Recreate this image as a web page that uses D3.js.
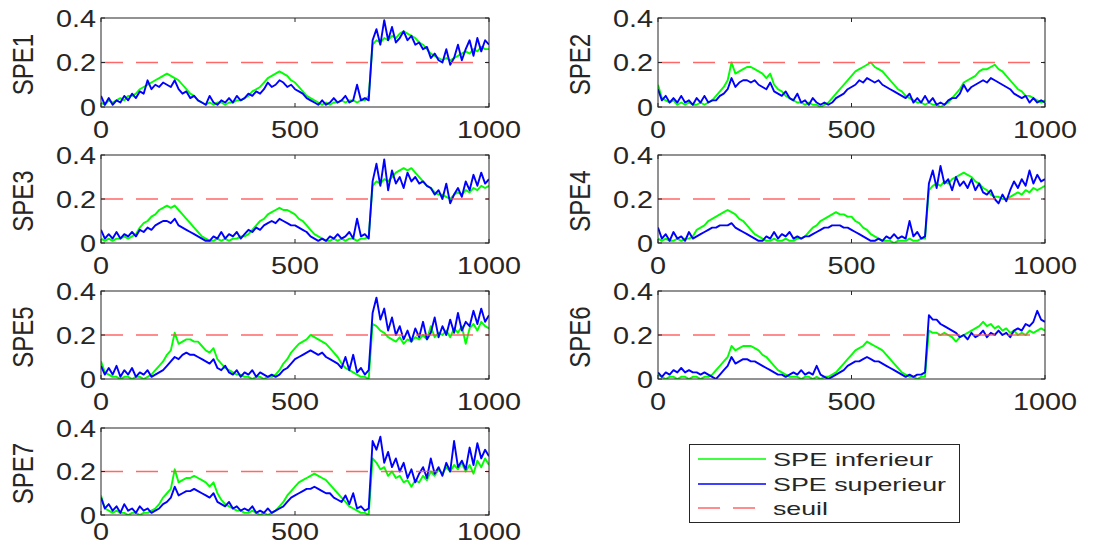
<!DOCTYPE html>
<html>
<head>
<meta charset="utf-8">
<script src="https://cdn.jsdelivr.net/npm/d3@7"></script>
<style>
  html, body { margin: 0; padding: 0; background: #ffffff; }
  svg { display: block; }
  text { font-family: "Liberation Sans", Arial, Helvetica, sans-serif; fill: #262626; }
</style>
</head>
<body>
<svg id="chart" width="1118" height="546"></svg>
<script>
// ---------------- DATA (sampled every 10 observations, 0..1000) ----------------
const panelNames = ["SPE1", "SPE2", "SPE3", "SPE4", "SPE5", "SPE6", "SPE7"];
const seriesNames = ["SPE inferieur", "SPE superieur", "seuil"];
const xTickValues = [0, 500, 1000];
const xTickLabels = ["0", "500", "1000"];
const yTickValues = [0, 0.2, 0.4];
const yTickLabels = ["0", "0.2", "0.4"];
const seuil = 0.2;

const spe1Inf = [0.02,0.01,0.03,0.02,0.03,0.04,0.03,0.05,0.05,0.06,0.08,0.09,0.10,0.11,0.12,0.13,0.14,0.15,0.14,0.13,0.12,0.10,0.08,0.06,0.05,0.03,0.02,0.01,0.02,0.01,0.02,0.02,0.01,0.02,0.02,0.03,0.03,0.04,0.05,0.07,0.08,0.09,0.11,0.13,0.14,0.15,0.16,0.15,0.14,0.12,0.11,0.09,0.07,0.05,0.04,0.03,0.02,0.01,0.02,0.01,0.02,0.02,0.03,0.02,0.03,0.03,0.02,0.03,0.03,0.05,0.28,0.30,0.29,0.31,0.30,0.32,0.31,0.33,0.34,0.33,0.32,0.31,0.29,0.28,0.26,0.24,0.23,0.22,0.21,0.22,0.21,0.22,0.23,0.24,0.25,0.24,0.26,0.25,0.27,0.26,0.26];
const spe1Sup = [0.05,0.01,0.04,0.01,0.03,0.02,0.05,0.03,0.06,0.04,0.07,0.06,0.12,0.08,0.10,0.09,0.11,0.10,0.09,0.12,0.08,0.06,0.07,0.04,0.05,0.03,0.02,0.01,0.05,0.02,0.01,0.03,0.02,0.04,0.02,0.05,0.03,0.04,0.06,0.05,0.07,0.06,0.08,0.11,0.09,0.10,0.12,0.11,0.09,0.10,0.08,0.07,0.06,0.04,0.03,0.02,0.01,0.03,0.01,0.02,0.04,0.02,0.03,0.05,0.02,0.03,0.10,0.03,0.04,0.03,0.30,0.35,0.28,0.39,0.30,0.36,0.29,0.31,0.34,0.30,0.32,0.28,0.29,0.26,0.27,0.22,0.24,0.21,0.20,0.26,0.19,0.22,0.28,0.21,0.26,0.30,0.23,0.31,0.25,0.30,0.28];

const spe2Inf = [0.10,0.04,0.03,0.02,0.03,0.01,0.02,0.01,0.02,0.01,0.01,0.02,0.01,0.02,0.03,0.05,0.07,0.09,0.12,0.20,0.15,0.16,0.17,0.18,0.18,0.17,0.16,0.15,0.13,0.15,0.10,0.08,0.07,0.05,0.04,0.03,0.02,0.02,0.01,0.02,0.01,0.01,0.00,0.01,0.02,0.04,0.06,0.08,0.10,0.12,0.14,0.16,0.17,0.18,0.19,0.20,0.18,0.17,0.16,0.14,0.12,0.10,0.08,0.07,0.05,0.04,0.03,0.02,0.02,0.01,0.02,0.01,0.01,0.00,0.01,0.02,0.04,0.06,0.08,0.11,0.12,0.13,0.14,0.16,0.17,0.17,0.18,0.19,0.17,0.16,0.14,0.12,0.10,0.08,0.07,0.05,0.05,0.04,0.03,0.02,0.03];
const spe2Sup = [0.08,0.03,0.05,0.02,0.04,0.02,0.05,0.02,0.03,0.01,0.04,0.02,0.05,0.02,0.03,0.03,0.05,0.06,0.08,0.13,0.09,0.11,0.12,0.12,0.11,0.12,0.10,0.09,0.08,0.11,0.07,0.06,0.05,0.07,0.04,0.03,0.06,0.02,0.03,0.01,0.04,0.02,0.01,0.02,0.01,0.02,0.04,0.05,0.06,0.08,0.09,0.10,0.12,0.11,0.13,0.12,0.11,0.12,0.10,0.09,0.08,0.07,0.06,0.05,0.04,0.06,0.02,0.04,0.02,0.05,0.02,0.04,0.01,0.02,0.01,0.03,0.04,0.04,0.06,0.10,0.07,0.09,0.10,0.11,0.12,0.11,0.13,0.12,0.11,0.10,0.09,0.08,0.06,0.05,0.04,0.05,0.02,0.04,0.02,0.03,0.02];

const spe3Inf = [0.02,0.01,0.02,0.01,0.02,0.02,0.03,0.02,0.03,0.04,0.07,0.09,0.10,0.12,0.13,0.15,0.16,0.17,0.16,0.17,0.15,0.13,0.11,0.09,0.07,0.05,0.03,0.02,0.01,0.01,0.02,0.01,0.02,0.01,0.02,0.02,0.03,0.03,0.04,0.06,0.08,0.10,0.11,0.13,0.14,0.15,0.16,0.15,0.15,0.14,0.13,0.11,0.10,0.08,0.06,0.04,0.03,0.02,0.01,0.01,0.02,0.01,0.02,0.01,0.02,0.02,0.01,0.02,0.02,0.03,0.26,0.28,0.27,0.29,0.28,0.30,0.32,0.33,0.34,0.33,0.34,0.32,0.30,0.28,0.26,0.25,0.23,0.22,0.22,0.21,0.20,0.22,0.23,0.22,0.24,0.23,0.25,0.24,0.26,0.25,0.26];
const spe3Sup = [0.06,0.02,0.04,0.02,0.05,0.02,0.04,0.03,0.05,0.03,0.06,0.05,0.07,0.06,0.08,0.09,0.10,0.10,0.09,0.11,0.08,0.07,0.06,0.05,0.04,0.03,0.02,0.01,0.01,0.03,0.02,0.05,0.02,0.04,0.03,0.05,0.02,0.04,0.06,0.05,0.07,0.06,0.08,0.09,0.10,0.09,0.11,0.10,0.09,0.08,0.08,0.07,0.06,0.05,0.03,0.02,0.01,0.02,0.01,0.03,0.02,0.04,0.02,0.03,0.05,0.02,0.11,0.03,0.04,0.02,0.28,0.36,0.26,0.38,0.24,0.33,0.27,0.30,0.25,0.32,0.28,0.30,0.27,0.28,0.26,0.25,0.22,0.24,0.20,0.27,0.18,0.22,0.25,0.21,0.28,0.24,0.31,0.26,0.32,0.27,0.29];

const spe4Inf = [0.02,0.01,0.02,0.01,0.01,0.02,0.01,0.02,0.02,0.03,0.06,0.07,0.08,0.10,0.11,0.12,0.13,0.14,0.15,0.14,0.13,0.11,0.10,0.08,0.06,0.04,0.03,0.02,0.01,0.01,0.02,0.01,0.01,0.02,0.01,0.01,0.02,0.02,0.03,0.05,0.07,0.08,0.10,0.11,0.12,0.13,0.14,0.13,0.13,0.12,0.12,0.10,0.09,0.07,0.06,0.04,0.03,0.02,0.01,0.01,0.01,0.00,0.01,0.01,0.01,0.02,0.01,0.01,0.02,0.02,0.24,0.26,0.27,0.26,0.28,0.27,0.29,0.30,0.31,0.32,0.31,0.30,0.28,0.27,0.25,0.24,0.22,0.21,0.21,0.20,0.20,0.21,0.22,0.23,0.22,0.24,0.23,0.25,0.24,0.25,0.26];
const spe4Sup = [0.07,0.02,0.04,0.01,0.05,0.02,0.03,0.01,0.05,0.02,0.03,0.04,0.05,0.06,0.07,0.07,0.08,0.08,0.08,0.09,0.07,0.06,0.05,0.04,0.03,0.02,0.01,0.01,0.03,0.02,0.05,0.02,0.04,0.03,0.05,0.02,0.03,0.02,0.03,0.03,0.04,0.05,0.06,0.07,0.07,0.08,0.08,0.08,0.07,0.07,0.06,0.05,0.04,0.03,0.02,0.01,0.01,0.02,0.01,0.03,0.02,0.04,0.02,0.03,0.02,0.10,0.03,0.05,0.02,0.03,0.27,0.33,0.25,0.35,0.27,0.29,0.24,0.30,0.26,0.28,0.25,0.29,0.24,0.27,0.23,0.22,0.24,0.20,0.18,0.22,0.19,0.24,0.28,0.25,0.29,0.26,0.33,0.27,0.31,0.28,0.29];

const spe5Inf = [0.08,0.03,0.02,0.01,0.01,0.00,0.01,0.01,0.00,0.01,0.01,0.00,0.01,0.02,0.04,0.06,0.08,0.11,0.13,0.21,0.16,0.17,0.18,0.18,0.17,0.17,0.15,0.13,0.12,0.14,0.09,0.07,0.05,0.04,0.03,0.02,0.02,0.01,0.01,0.00,0.01,0.01,0.00,0.01,0.01,0.02,0.04,0.07,0.09,0.12,0.14,0.16,0.17,0.18,0.20,0.19,0.18,0.17,0.16,0.14,0.12,0.10,0.07,0.05,0.04,0.03,0.02,0.01,0.01,0.00,0.25,0.24,0.22,0.21,0.19,0.18,0.17,0.19,0.16,0.18,0.17,0.19,0.18,0.20,0.18,0.24,0.19,0.21,0.20,0.22,0.19,0.23,0.21,0.24,0.16,0.23,0.25,0.22,0.26,0.24,0.23];
const spe5Sup = [0.06,0.02,0.05,0.02,0.06,0.01,0.04,0.02,0.05,0.01,0.03,0.02,0.04,0.01,0.02,0.03,0.04,0.06,0.08,0.10,0.09,0.11,0.12,0.11,0.11,0.10,0.09,0.08,0.07,0.09,0.05,0.04,0.06,0.03,0.02,0.04,0.01,0.03,0.02,0.04,0.01,0.03,0.02,0.01,0.02,0.01,0.02,0.04,0.05,0.07,0.09,0.10,0.11,0.12,0.13,0.12,0.11,0.12,0.10,0.09,0.08,0.07,0.05,0.10,0.04,0.11,0.03,0.05,0.02,0.04,0.30,0.37,0.27,0.32,0.22,0.28,0.20,0.24,0.18,0.22,0.17,0.23,0.19,0.26,0.18,0.21,0.28,0.19,0.24,0.20,0.27,0.21,0.30,0.22,0.26,0.24,0.31,0.25,0.32,0.26,0.29];

const spe6Inf = [0.02,0.01,0.00,0.01,0.01,0.00,0.01,0.01,0.00,0.01,0.01,0.00,0.01,0.01,0.02,0.04,0.06,0.08,0.10,0.15,0.13,0.14,0.15,0.15,0.15,0.14,0.13,0.11,0.10,0.08,0.06,0.04,0.03,0.02,0.01,0.01,0.01,0.00,0.01,0.01,0.00,0.01,0.00,0.01,0.01,0.02,0.03,0.05,0.07,0.09,0.11,0.13,0.14,0.15,0.17,0.16,0.15,0.14,0.13,0.11,0.09,0.07,0.05,0.03,0.02,0.01,0.01,0.00,0.01,0.01,0.22,0.21,0.21,0.20,0.21,0.20,0.19,0.17,0.19,0.20,0.21,0.22,0.23,0.24,0.26,0.24,0.25,0.23,0.24,0.22,0.23,0.21,0.22,0.20,0.21,0.20,0.22,0.21,0.22,0.23,0.22];
const spe6Sup = [0.03,0.01,0.03,0.02,0.04,0.03,0.05,0.03,0.04,0.03,0.03,0.02,0.03,0.02,0.01,0.00,0.02,0.04,0.06,0.10,0.07,0.08,0.09,0.09,0.08,0.08,0.07,0.06,0.05,0.04,0.03,0.02,0.02,0.01,0.02,0.03,0.02,0.04,0.02,0.03,0.02,0.06,0.02,0.01,0.00,0.01,0.02,0.03,0.04,0.06,0.07,0.08,0.08,0.09,0.10,0.09,0.08,0.08,0.07,0.06,0.05,0.04,0.03,0.02,0.01,0.02,0.01,0.02,0.02,0.03,0.29,0.27,0.27,0.25,0.24,0.23,0.22,0.21,0.19,0.20,0.18,0.21,0.19,0.20,0.22,0.19,0.21,0.20,0.22,0.20,0.21,0.19,0.22,0.23,0.22,0.25,0.24,0.26,0.31,0.27,0.26];

const spe7Inf = [0.09,0.03,0.02,0.01,0.02,0.01,0.01,0.00,0.01,0.01,0.00,0.01,0.01,0.02,0.03,0.05,0.08,0.10,0.12,0.21,0.15,0.16,0.17,0.17,0.18,0.17,0.16,0.15,0.13,0.15,0.10,0.07,0.05,0.04,0.03,0.02,0.02,0.01,0.01,0.02,0.01,0.00,0.01,0.00,0.01,0.02,0.04,0.06,0.09,0.11,0.13,0.15,0.16,0.17,0.18,0.19,0.18,0.17,0.16,0.14,0.12,0.10,0.08,0.06,0.04,0.03,0.02,0.01,0.01,0.00,0.26,0.24,0.21,0.22,0.18,0.20,0.17,0.18,0.15,0.16,0.13,0.16,0.15,0.18,0.16,0.20,0.18,0.21,0.19,0.22,0.20,0.23,0.21,0.24,0.20,0.23,0.19,0.25,0.22,0.26,0.23];
const spe7Sup = [0.08,0.03,0.05,0.02,0.04,0.01,0.05,0.02,0.03,0.01,0.04,0.02,0.03,0.01,0.02,0.03,0.05,0.06,0.08,0.13,0.09,0.10,0.11,0.11,0.12,0.11,0.10,0.09,0.08,0.10,0.06,0.05,0.04,0.06,0.03,0.04,0.02,0.03,0.02,0.04,0.01,0.02,0.01,0.03,0.01,0.02,0.03,0.04,0.06,0.08,0.09,0.10,0.11,0.12,0.12,0.13,0.12,0.11,0.10,0.10,0.08,0.07,0.06,0.09,0.05,0.10,0.03,0.04,0.02,0.03,0.34,0.30,0.36,0.24,0.29,0.22,0.26,0.20,0.24,0.17,0.21,0.15,0.19,0.22,0.17,0.26,0.19,0.22,0.18,0.24,0.20,0.34,0.22,0.25,0.21,0.31,0.23,0.33,0.26,0.30,0.27];

const infSeries = [spe1Inf, spe2Inf, spe3Inf, spe4Inf, spe5Inf, spe6Inf, spe7Inf];
const supSeries = [spe1Sup, spe2Sup, spe3Sup, spe4Sup, spe5Sup, spe6Sup, spe7Sup];

// ---------------- LAYOUT / STYLE ----------------
const colLayout = [{ x0: 101, x1: 489 }, { x0: 658, x1: 1045 }];
const rowLayout = [{ y0: 18, y1: 107 }, { y0: 155, y1: 243 }, { y0: 291, y1: 379 }, { y0: 428, y1: 515 }];
const colorInf = "#00ff00";
const colorSup = "#0000ff";
const colorSeuil = "#ff4d4d";
const axisColor = "#262626";
const stretch = 1.2;      // text is horizontally stretched in the reference
const fontSize = 24;
const tickLen = 4;

const svg = d3.select("#chart");
svg.append("rect").attr("width", 1118).attr("height", 546).attr("fill", "#fff");

panelNames.forEach((name, i) => {
  const col = colLayout[i % 2];
  const row = rowLayout[Math.floor(i / 2)];
  const x = d3.scaleLinear().domain([0, 1000]).range([col.x0, col.x1]);
  const y = d3.scaleLinear().domain([0, 0.4]).range([row.y1, row.y0]);
  const g = svg.append("g");

  const clipId = "clip" + i;
  g.append("clipPath").attr("id", clipId)
    .append("rect").attr("x", col.x0).attr("y", row.y0)
    .attr("width", col.x1 - col.x0).attr("height", row.y1 - row.y0);

  const plot = g.append("g").attr("clip-path", `url(#${clipId})`);
  const line = d3.line().x((d, k) => x(k * 10)).y(d => y(d));

  plot.append("path").datum(infSeries[i])
    .attr("d", line).attr("fill", "none")
    .attr("stroke", colorInf).attr("stroke-width", 1.9).attr("stroke-linejoin", "round");
  plot.append("path").datum(supSeries[i])
    .attr("d", line).attr("fill", "none")
    .attr("stroke", colorSup).attr("stroke-width", 1.9).attr("stroke-linejoin", "round");
  plot.append("line")
    .attr("x1", x(0)).attr("x2", x(1000)).attr("y1", y(seuil)).attr("y2", y(seuil))
    .attr("stroke", colorSeuil).attr("stroke-width", 1.5).attr("stroke-opacity", 0.85)
    .attr("stroke-dasharray", "22,13");

  // axes box
  g.append("rect").attr("x", col.x0).attr("y", row.y0)
    .attr("width", col.x1 - col.x0).attr("height", row.y1 - row.y0)
    .attr("fill", "none").attr("stroke", axisColor).attr("stroke-width", 1);

  // inward ticks
  xTickValues.forEach(v => {
    g.append("line").attr("x1", x(v)).attr("x2", x(v)).attr("y1", row.y1).attr("y2", row.y1 - tickLen)
      .attr("stroke", axisColor);
    g.append("line").attr("x1", x(v)).attr("x2", x(v)).attr("y1", row.y0).attr("y2", row.y0 + tickLen)
      .attr("stroke", axisColor);
  });
  yTickValues.forEach(v => {
    g.append("line").attr("x1", col.x0).attr("x2", col.x0 + tickLen).attr("y1", y(v)).attr("y2", y(v))
      .attr("stroke", axisColor);
    g.append("line").attr("x1", col.x1).attr("x2", col.x1 - tickLen).attr("y1", y(v)).attr("y2", y(v))
      .attr("stroke", axisColor);
  });

  // tick labels
  const xLabelY = Math.min(row.y1 + 31, 540);
  xTickValues.forEach((v, k) => {
    g.append("text")
      .attr("transform", `translate(${x(v)},${xLabelY}) scale(${stretch},1)`)
      .attr("text-anchor", "middle").attr("font-size", fontSize)
      .text(xTickLabels[k]);
  });
  yTickValues.forEach((v, k) => {
    g.append("text")
      .attr("transform", `translate(${col.x0 - 5},${y(v) + 8.5}) scale(${stretch},1)`)
      .attr("text-anchor", "end").attr("font-size", fontSize)
      .text(yTickLabels[k]);
  });

  // y label
  g.append("text")
    .attr("transform", `translate(${col.x0 - 68},${(row.y0 + row.y1) / 2 + 2}) scale(${stretch},1) rotate(-90)`)
    .attr("text-anchor", "middle").attr("font-size", fontSize)
    .text(name);
});

// ---------------- LEGEND ----------------
const legend = svg.append("g");
legend.append("rect").attr("x", 689.5).attr("y", 444.5).attr("width", 270).attr("height", 78)
  .attr("fill", "#fff").attr("stroke", axisColor).attr("stroke-width", 1);
const legendStyles = [
  { color: colorInf, dash: null, opacity: 1, width: 160 },
  { color: colorSup, dash: null, opacity: 1, width: 173 },
  { color: colorSeuil, dash: "22,13", opacity: 0.85, width: 55 }
];
seriesNames.forEach((nm, k) => {
  const yy = 459 + k * 24.5;
  const st = legendStyles[k];
  const ly = Math.round(yy);
  const ln = legend.append("line").attr("x1", 698).attr("x2", 766).attr("y1", ly).attr("y2", ly)
    .attr("stroke", st.color).attr("stroke-width", 1.6).attr("stroke-opacity", st.opacity);
  if (st.dash) ln.attr("stroke-dasharray", st.dash);
  legend.append("text").attr("x", 773).attr("y", yy + 7)
    .attr("font-size", 19).attr("textLength", st.width).attr("lengthAdjust", "spacingAndGlyphs")
    .text(nm);
});
</script>
</body>
</html>
